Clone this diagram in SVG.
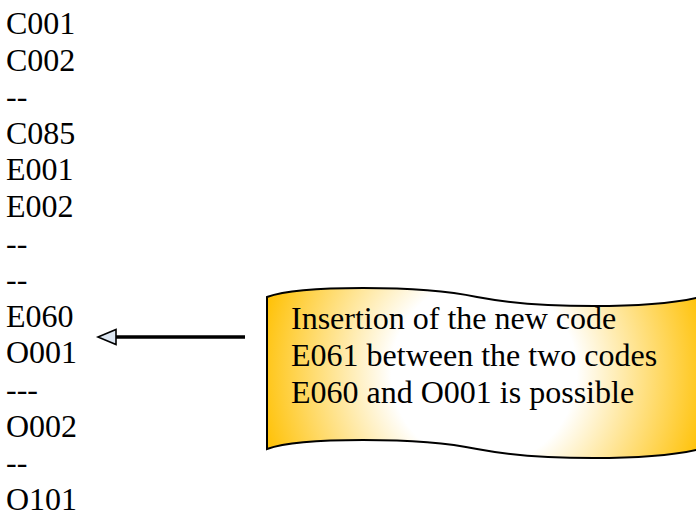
<svg xmlns="http://www.w3.org/2000/svg" width="696" height="517" viewBox="0 0 696 517">
<style>
text{font-family:"Liberation Serif","Times New Roman",serif;font-size:32px;fill:#000}
.conn{stroke:#000;stroke-width:3.5;fill:none}
.tape{stroke:#000;stroke-width:2;fill:url(#g)}
</style>
<defs>
<radialGradient id="g" gradientUnits="userSpaceOnUse" cx="484" cy="372" r="232">
<stop offset="0" stop-color="#fff"/>
<stop offset="0.4" stop-color="#fff"/>
<stop offset="1" stop-color="#ffc000"/>
</radialGradient>
<marker id="ah" markerUnits="userSpaceOnUse" markerWidth="24" markerHeight="20" refX="3" refY="9" orient="auto" viewBox="0 0 24 20">
<path d="M21,9 L3,1.5 L3,16.5 Z" fill="#dce6f2" stroke="#000" stroke-width="1.6" stroke-linejoin="miter"/>
</marker>
</defs>
<g id="codes">
<text x="6" y="34">C001</text>
<text x="6" y="70.6">C002</text>
<text x="6" y="107.2">--</text>
<text x="6" y="143.8">C085</text>
<text x="6" y="180.4">E001</text>
<text x="6" y="217">E002</text>
<text x="6" y="253.6">--</text>
<text x="6" y="290.2">--</text>
<text x="6" y="326.8">E060</text>
<text x="6" y="363.4">O001</text>
<text x="6" y="400">---</text>
<text x="6" y="436.6">O002</text>
<text x="6" y="473.2">--</text>
<text x="6" y="509.8">O101</text>
</g>
<g id="note">
<path class="tape" d="M267,297 C300,285 420,285 477,297 C540,309 650,309 700,297 L700,449 C650,461 540,461 477,449 C420,437 300,437 267,449 Z"/>
<text x="291" y="329">Insertion of the new code</text>
<text x="291" y="365.8">E061 between the two codes</text>
<text x="291" y="402.6">E060 and O001 is possible</text>
</g>
<g id="connectors">
<path class="conn" d="M245,337 L116,337" marker-end="url(#ah)"/>
</g>
</svg>
